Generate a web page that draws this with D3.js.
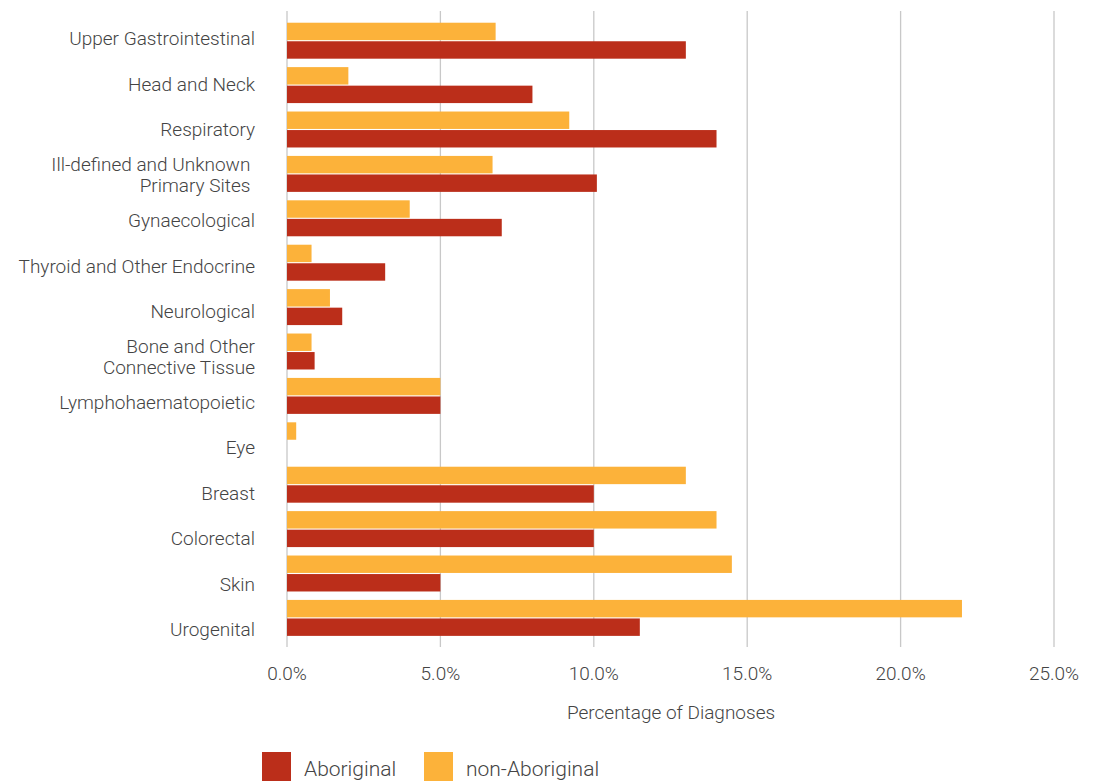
<!DOCTYPE html>
<html lang="en">
<head>
<meta charset="UTF-8">
<title>Percentage of Diagnoses by Cancer Group</title>
<script src="https://d3js.org/d3.v7.min.js"></script>
<style>
    body { margin: 0; background: #fff; font-family: Roboto, "Liberation Sans", Arial, sans-serif; }
    svg text { fill: #444; font-weight: 300; }
</style>
</head>
<body>
<svg width="1093" height="783"></svg>
<script>
    // Cancer groups (top to bottom)
    const categories = [
        ["Upper Gastrointestinal"],
        ["Head and Neck"],
        ["Respiratory"],
        ["Ill-defined and Unknown ", "Primary Sites "],
        ["Gynaecological"],
        ["Thyroid and Other Endocrine"],
        ["Neurological"],
        ["Bone and Other", "Connective Tissue"],
        ["Lymphohaematopoietic"],
        ["Eye"],
        ["Breast"],
        ["Colorectal"],
        ["Skin"],
        ["Urogenital"]
    ];
    const aboriginal    = [13.0, 8.0, 14.0, 10.1, 7.0, 3.2, 1.8, 0.9, 5.0, 0.0, 10.0, 10.0, 5.0, 11.5];
    const nonAboriginal = [6.8, 2.0, 9.2, 6.7, 4.0, 0.8, 1.4, 0.8, 5.0, 0.3, 13.0, 14.0, 14.5, 22.0];
    const xTicks = [0, 5, 10, 15, 20, 25];
    const seriesNames = ["non-Aboriginal", "Aboriginal"];
    const legendNames = ["Aboriginal", "non-Aboriginal"];

    const color = d3.scaleOrdinal()
        .domain(["Aboriginal", "non-Aboriginal"])
        .range(["#bb2e1a", "#fcb23a"]);

    const rows = categories.map((c, i) => ({
        key: c.join(" "),
        lines: c,
        values: { "Aboriginal": aboriginal[i], "non-Aboriginal": nonAboriginal[i] }
    }));

    const svg = d3.select("svg");

    const x = d3.scaleLinear().domain([0, 25]).range([287, 1054]);

    // bars band
    const y = d3.scaleBand()
        .domain(rows.map(d => d.key))
        .range([18.5, 640.1])
        .paddingInner(0.19)
        .paddingOuter(0.095);

    // labels sit on the full plot height band
    const yLabel = d3.scaleBand()
        .domain(rows.map(d => d.key))
        .range([11, 647]);

    const ySub = d3.scaleBand()
        .domain(seriesNames)
        .range([0, y.bandwidth()])
        .paddingInner(0.06);

    // vertical grid lines
    svg.append("g")
        .selectAll("line")
        .data(xTicks)
        .enter().append("line")
        .attr("x1", d => x(d)).attr("x2", d => x(d))
        .attr("y1", 11).attr("y2", 647)
        .attr("stroke", "#c8c8c8")
        .attr("stroke-width", 1.3);

    // bars
    const groups = svg.append("g")
        .selectAll("g")
        .data(rows)
        .enter().append("g")
        .attr("transform", d => `translate(0,${y(d.key)})`);

    groups.selectAll("rect")
        .data(d => seriesNames.map(s => ({ s, v: d.values[s] })))
        .enter().append("rect")
        .attr("x", x(0))
        .attr("y", d => ySub(d.s))
        .attr("width", d => x(d.v) - x(0))
        .attr("height", ySub.bandwidth())
        .attr("fill", d => color(d.s));

    // category labels
    const labels = svg.append("g")
        .selectAll("text")
        .data(rows)
        .enter().append("text")
        .attr("text-anchor", "end")
        .attr("font-size", "19px")
        .attr("x", 255)
        .attr("y", d => yLabel(d.key) + yLabel.bandwidth() / 2 + 5 - (d.lines.length - 1) * 10.5)
        .style("white-space", "pre");

    labels.selectAll("tspan")
        .data(d => d.lines)
        .enter().append("tspan")
        .attr("x", 255)
        .attr("dy", (d, i) => i === 0 ? "0.35em" : "21px")
        .text(d => d);

    // x axis tick labels
    svg.append("g")
        .selectAll("text")
        .data(xTicks)
        .enter().append("text")
        .attr("x", d => x(d))
        .attr("y", 680)
        .attr("text-anchor", "middle")
        .attr("font-size", "19px")
        .text(d => d3.format(".1f")(d) + "%");

    // axis title
    svg.append("text")
        .attr("x", 671)
        .attr("y", 719)
        .attr("text-anchor", "middle")
        .attr("font-size", "19px")
        .text("Percentage of Diagnoses");

    // legend
    const legendX = [262, 424];
    const legend = svg.append("g")
        .selectAll("g")
        .data(legendNames)
        .enter().append("g")
        .attr("transform", (d, i) => `translate(${legendX[i]},752)`);

    legend.append("rect")
        .attr("width", 29).attr("height", 29)
        .attr("fill", d => color(d));

    legend.append("text")
        .attr("x", 42)
        .attr("y", 24)
        .attr("font-size", "21px")
        .text(d => d);
</script>
</body>
</html>
